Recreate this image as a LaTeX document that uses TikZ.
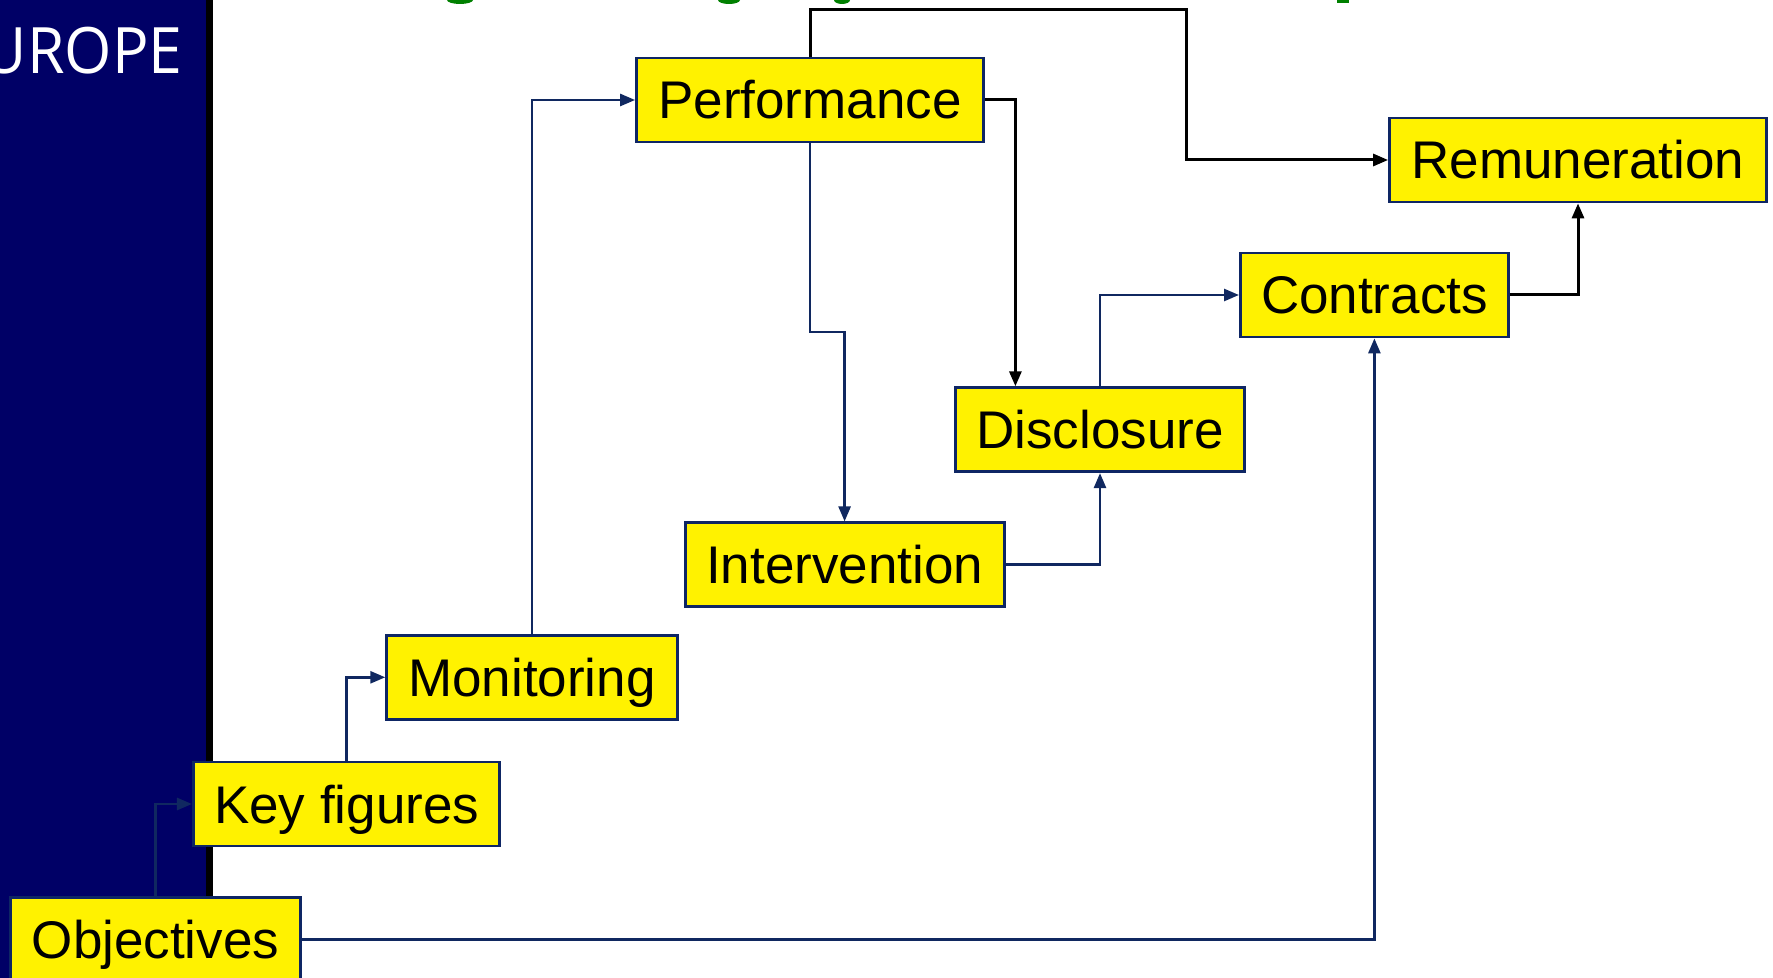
\documentclass[tikz,border=0pt]{standalone}
\usepackage{fontspec}
\setmainfont{Liberation Sans}
\newfontfamily\logofont{Open Sans}
\usetikzlibrary{arrows.meta,calc}
\definecolor{panelnavy}{RGB}{0,0,102}
\definecolor{boxedge}{RGB}{14,38,100}
\definecolor{linknavy}{RGB}{16,40,96}
\definecolor{titlegreen}{RGB}{0,128,0}
\tikzset{
  stepbox/.style={draw=boxedge, line width=1.4pt, fill=yellow, inner sep=0pt,
    minimum height=42pt, text height=19pt, text depth=0pt,
    font=\fontsize{26.5}{30}\selectfont, anchor=center},
  navylink/.style={draw=linknavy, line width=1.3pt, -{Triangle[length=7.5pt,width=6pt]}},
  blacklink/.style={draw=black, line width=1.5pt, -{Triangle[length=7.5pt,width=6pt]}}
}
\begin{document}
\begin{tikzpicture}[x=0.5pt,y=-0.5pt]
\useasboundingbox (0,0) rectangle (1773,978);
\clip (0,0) rectangle (1773,978);
\fill[white] (0,0) rectangle (1773,978);
% left panel
\fill[panelnavy] (0,0) rectangle (206,978);
\fill[black] (206,0) rectangle (213,978);
\node[anchor=base east, inner sep=0pt, text=white, font=\logofont\fontsize{32}{35}\selectfont]
  (logo) at (183,73.5) {\scalebox{0.95}[1]{UROPE}};
% fragments of the cut-off green title
\fill[titlegreen] (460,0) ellipse (13 and 4);
\fill[titlegreen] (729,0) ellipse (11 and 4);
\fill[titlegreen] (842,0) ellipse (8 and 4);
\fill[titlegreen] (1337,0) rectangle (1349,3);
% boxes
\node[stepbox, minimum width=173.5pt] (perf) at (810,100) {Performance};
\node[stepbox, minimum width=188.5pt] (rem) at (1578,160) {Remuneration};
\node[stepbox, minimum width=134pt] (con) at (1374.4,295) {Contracts};
\node[stepbox, minimum width=144.75pt] (disc) at (1100,429.7) {Disclosure};
\node[stepbox, minimum width=159.5pt] (int) at (844.6,564.8) {Intervention};
\node[stepbox, minimum width=145.3pt] (mon) at (532,677.3) {Monitoring};
\node[stepbox, minimum width=153.25pt] (key) at (346.6,804) {Key figures};
\node[stepbox, minimum width=145.3pt] (obj) at (155.5,939.5) {Objectives};
% helper coordinates
\coordinate (k1) at (0,332);
\coordinate (k2) at (1015.4,0);
\coordinate (k3) at (1186,10);
% connectors
\draw[navylink] (obj.north) |- (key.west);
\draw[navylink] (key.north) |- (mon.west);
\draw[navylink] (mon.north) |- (perf.west);
\draw[navylink] (perf.south) -- (perf.south |- k1) -- (int.north |- k1) -- (int.north);
\draw[blacklink] (perf.east) -| (k2 |- disc.north);
\draw[blacklink] (perf.north) |- (k3) |- (rem.west);
\draw[navylink] (int.east) -| (disc.south);
\draw[navylink] (disc.north) |- (con.west);
\draw[blacklink] (con.east) -| (rem.south);
\draw[navylink] (obj.east) -| (con.south);
\end{tikzpicture}
\end{document}
